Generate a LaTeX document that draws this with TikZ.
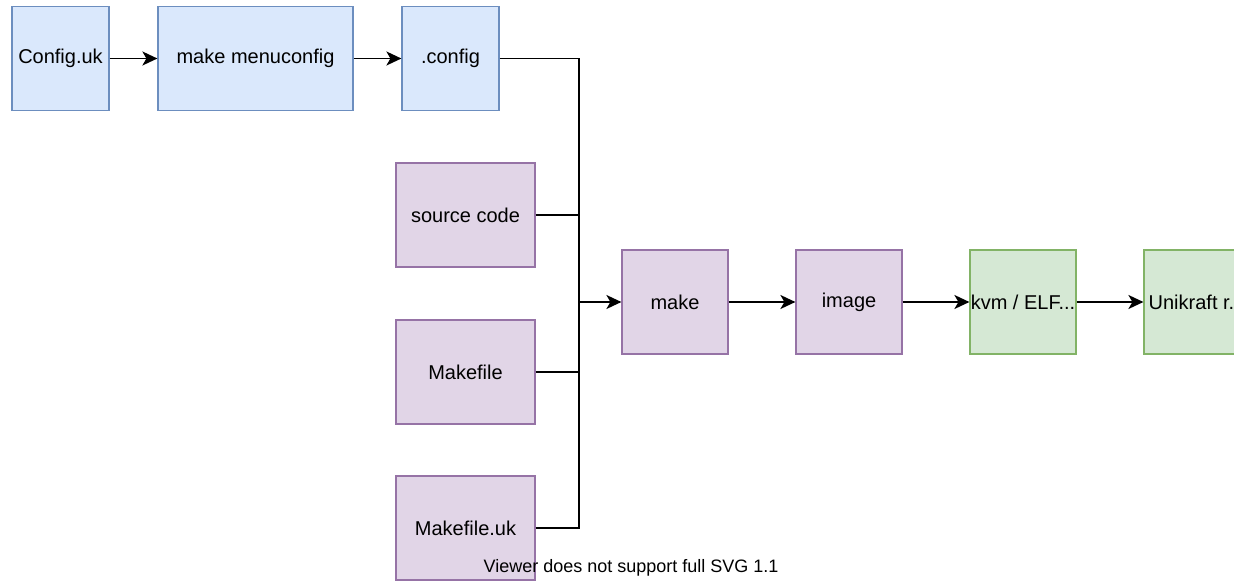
\documentclass[tikz,border=0pt]{standalone}
\usepackage{fontspec}
\setmainfont{Liberation Sans}
\usetikzlibrary{arrows.meta}

\definecolor{cfgfill}{HTML}{DAE8FC}
\definecolor{cfgline}{HTML}{6C8EBF}
\definecolor{bldfill}{HTML}{E1D5E7}
\definecolor{bldline}{HTML}{9673A6}
\definecolor{runfill}{HTML}{D5E8D4}
\definecolor{runline}{HTML}{82B366}

\begin{document}
\begin{tikzpicture}[x=0.5pt, y=-0.5pt,
    box/.style={draw, line width=0.6pt, inner sep=0pt, minimum height=52pt,
      font=\fontsize{10}{12}\selectfont},
    cfg/.style={box, fill=cfgfill, draw=cfgline},
    bld/.style={box, fill=bldfill, draw=bldline},
    run/.style={box, fill=runfill, draw=runline},
    link/.style={line width=0.9pt},
    arr/.style={link, -{Stealth[length=7.5pt, width=7pt, inset=2pt]}}]
    \useasboundingbox (0,0) rectangle (1234,582);
    % Konfiguration
    \node[cfg, minimum width=48.5pt] (config) at (60.5, 58.5) {Config.uk};
    \node[cfg, minimum width=97.5pt] (menuconfig) at (255.5, 58.5) {make menuconfig};
    \node[cfg, minimum width=48.5pt] (dotconfig) at (450.5, 58.5) {.config};
    \draw[arr] (config) -- (menuconfig);
    \draw[arr] (menuconfig) -- (dotconfig);
    % Eingaben fuer make
    \node[bld, minimum width=69.5pt] (src) at (465.5, 215) {source code};
    \node[bld, minimum width=69.5pt] (makefile) at (465.5, 372) {Makefile};
    \node[bld, minimum width=69.5pt] (makefileuk) at (465.5, 528) {Makefile.uk};
    % Build
    \node[bld, minimum width=53pt] (make) at (675, 302) {make};
    \node[bld, minimum width=53pt] (image) at (849, 302) {image};
    \node[run, minimum width=53pt] (kvm) at (1023, 302) {kvm / ELF...};
    \node[run, minimum width=53pt] (unikraft) at (1197, 302) {Unikraft r...};
    % Sammelleitung
    \coordinate (join) at (579, 302);
    \draw[link] (dotconfig.east) -| (join);
    \draw[link] (src.east) -| (join);
    \draw[link] (makefile.east) -| (join);
    \draw[link] (makefileuk.east) -| (join);
    \draw[arr] (join) -- (make);
    \draw[arr] (make) -- (image);
    \draw[arr] (image) -- (kvm);
    \draw[arr] (kvm) -- (unikraft);
    \node[font=\fontsize{9}{11}\selectfont] (note) at (631, 568) {Viewer does not support full SVG 1.1};
\end{tikzpicture}
\end{document}
